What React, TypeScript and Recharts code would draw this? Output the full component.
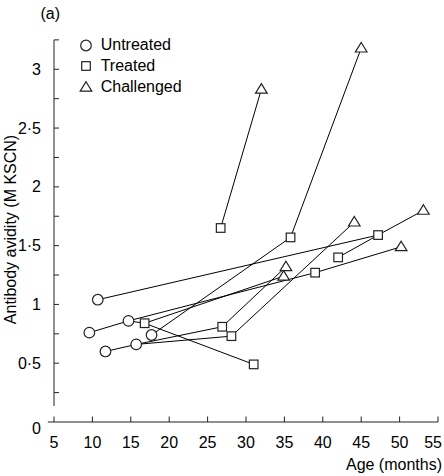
import {
  ComposedChart,
  Legend,
  Line,
  ReferenceLine,
  Scatter,
  XAxis,
  YAxis,
} from "recharts";

const FONT = "'Liberation Sans', Arial, Helvetica, sans-serif";
const INK = "#222";

// marker groups, age (months) vs avidity (M KSCN)
const untreated = [
  { id: "u1", age: 10.7, avidity: 1.04 },
  { id: "u2", age: 9.6, avidity: 0.76 },
  { id: "u3", age: 14.7, avidity: 0.86 },
  { id: "u4", age: 11.7, avidity: 0.6 },
  { id: "u5", age: 15.7, avidity: 0.66 },
  { id: "u6", age: 17.7, avidity: 0.74 },
];

const treated = [
  { id: "t1", age: 16.8, avidity: 0.84 },
  { id: "t2", age: 26.7, avidity: 1.65 },
  { id: "t3", age: 35.8, avidity: 1.57 },
  { id: "t4", age: 42.0, avidity: 1.4 },
  { id: "t5", age: 39.0, avidity: 1.27 },
  { id: "t6", age: 26.9, avidity: 0.81 },
  { id: "t7", age: 28.1, avidity: 0.73 },
  { id: "t8", age: 31.0, avidity: 0.49 },
  { id: "t9", age: 47.2, avidity: 1.59 },
];

const challenged = [
  { id: "c1", age: 35.2, avidity: 1.32 },
  { id: "c2", age: 34.9, avidity: 1.24 },
  { id: "c3", age: 44.1, avidity: 1.7 },
  { id: "c4", age: 53.1, avidity: 1.8 },
  { id: "c5", age: 50.2, avidity: 1.49 },
  { id: "c6", age: 32.0, avidity: 2.83 },
  { id: "c7", age: 45.0, avidity: 3.18 },
];

// which points are joined by a line
const paths = [
  ["u6", "t3", "c7"],
  ["t2", "c6"],
  ["u1", "t9", "c4"],
  ["t4", "t9"],
  ["u2", "u3", "t5", "c5"],
  ["u3", "t1", "c2"],
  ["t1", "t8"],
  ["u4", "u5", "t6", "c1"],
  ["u5", "t7", "c3"],
];

const xTicks = [5, 10, 15, 20, 25, 30, 35, 40, 45, 50, 55];
const yTicks = [0, 0.25, 0.5, 0.75, 1, 1.25, 1.5, 1.75, 2, 2.25, 2.5, 2.75, 3, 3.25];
const yLabels: Record<number, string> = {
  0: "0",
  0.5: "0·5",
  1: "1",
  1.5: "1·5",
  2: "2",
  2.5: "2·5",
  3: "3",
};

const W = 444;
const H = 476;
const MARGIN = { top: 34, right: 6, bottom: 24, left: 0 };
const Y_AXIS_W = 54;
const X_AXIS_H = 30;
const AXIS_X = MARGIN.left + Y_AXIS_W;
const AXIS_Y = H - MARGIN.bottom - X_AXIS_H;

const byId: Record<string, { age: number; avidity: number }> = {};
[...untreated, ...treated, ...challenged].forEach((p) => {
  byId[p.id] = p;
});

function Circle({ cx, cy }: { cx?: number; cy?: number }) {
  return <circle cx={cx} cy={cy} r={5.3} fill="#fff" stroke={INK} strokeWidth={1.2} />;
}

function Square({ cx, cy }: { cx?: number; cy?: number }) {
  const s = 8.6;
  return (
    <rect
      x={(cx ?? 0) - s / 2}
      y={(cy ?? 0) - s / 2}
      width={s}
      height={s}
      fill="#fff"
      stroke={INK}
      strokeWidth={1.2}
    />
  );
}

function Triangle({ cx, cy }: { cx?: number; cy?: number }) {
  const x = cx ?? 0;
  const y = cy ?? 0;
  return (
    <path
      d={`M${x},${y - 5.6} L${x + 5.8},${y + 3.9} L${x - 5.8},${y + 3.9} Z`}
      fill="#fff"
      stroke={INK}
      strokeWidth={1.2}
      strokeLinejoin="miter"
    />
  );
}

function YTick({ y, payload }: { y?: number; payload?: { value: number } }) {
  const v = payload?.value ?? 0;
  const label = yLabels[v];
  const yy = y ?? 0;
  return (
    <g>
      {v > 0 && <line x1={AXIS_X} x2={AXIS_X + 5} y1={yy} y2={yy} stroke={INK} strokeWidth={1} />}
      {label !== undefined && (
        <text
          x={AXIS_X - 13}
          y={yy + (v === 0 ? 6.5 : 0)}
          dy="0.35em"
          textAnchor="end"
          fontFamily={FONT}
          fontSize={16}
          fill="#000"
        >
          {label}
        </text>
      )}
    </g>
  );
}

function XTick({ x, payload }: { x?: number; payload?: { value: number } }) {
  const xx = x ?? 0;
  // last label is pulled in so it stays inside the frame
  const fits = xx + 9 <= 442;
  return (
    <g>
      <line x1={xx} x2={xx} y1={AXIS_Y} y2={AXIS_Y - 5.5} stroke={INK} strokeWidth={1} />
      <text
        x={fits ? xx : 442}
        y={442}
        dy="0.35em"
        textAnchor={fits ? "middle" : "end"}
        fontFamily={FONT}
        fontSize={16}
        fill="#000"
      >
        {payload?.value}
      </text>
    </g>
  );
}

function LegendBox() {
  const rows = [
    { name: "Untreated", Mark: Circle, y: 15.5 },
    { name: "Treated", Mark: Square, y: 36 },
    { name: "Challenged", Mark: Triangle, y: 57.3 },
  ];
  return (
    <svg width={130} height={70} style={{ display: "block" }}>
      {rows.map(({ name, Mark, y }) => (
        <g key={name}>
          <Mark cx={16} cy={y} />
          <text x={30.7} y={y - 1} dy="0.35em" fontFamily={FONT} fontSize={16} fill="#000">
            {name}
          </text>
        </g>
      ))}
    </svg>
  );
}

function Titles() {
  return (
    <g>
      <text x={40.5} y={13} dy="0.35em" fontFamily={FONT} fontSize={16} fill="#000">
        (a)
      </text>
      <text
        x={16}
        y={229.5}
        transform="rotate(-90 16 229.5)"
        textAnchor="middle"
        fontFamily={FONT}
        fontSize={16}
        fill="#000"
      >
        Antibody avidity (M KSCN)
      </text>
    </g>
  );
}

export default function App() {
  return (
    <div style={{ position: "absolute", left: 0, top: 0, background: "#fff" }}>
      <ComposedChart width={W} height={H} margin={MARGIN}>
        <XAxis
          type="number"
          dataKey="age"
          domain={[5, 55]}
          ticks={xTicks}
          interval={0}
          axisLine={false}
          tickLine={false}
          tick={<XTick />}
          height={X_AXIS_H}
          label={{
            content: () => (
              <text x={442} y={464} dy="0.35em" textAnchor="end" fontFamily={FONT} fontSize={16} fill="#000">
                Age (months)
              </text>
            ),
          }}
        />
        <YAxis
          type="number"
          dataKey="avidity"
          domain={[0, 3.3]}
          ticks={yTicks}
          interval={0}
          axisLine={false}
          tickLine={false}
          tick={<YTick />}
          width={Y_AXIS_W}
          label={{ content: () => <Titles /> }}
        />
        <ReferenceLine
          segment={[
            { x: 5, y: 0.136 },
            { x: 5, y: 3.25 },
          ]}
          stroke={INK}
          strokeWidth={1}
          ifOverflow="visible"
        />
        <ReferenceLine
          segment={[
            { x: 4.2, y: 0 },
            { x: 55, y: 0 },
          ]}
          stroke={INK}
          strokeWidth={1}
          ifOverflow="visible"
        />
        {paths.map((ids, i) => (
          <Line
            key={`path-${i}`}
            data={ids.map((id) => byId[id])}
            dataKey="avidity"
            type="linear"
            stroke="#000"
            strokeWidth={1}
            dot={false}
            activeDot={false}
            legendType="none"
            isAnimationActive={false}
          />
        ))}
        <Scatter name="Untreated" data={untreated} shape={<Circle />} isAnimationActive={false} />
        <Scatter name="Treated" data={treated} shape={<Square />} isAnimationActive={false} />
        <Scatter name="Challenged" data={challenged} shape={<Triangle />} isAnimationActive={false} />
        <Legend
          layout="horizontal"
          verticalAlign="middle"
          align="center"
          content={() => <LegendBox />}
          wrapperStyle={{ left: 70, top: 30, width: 130, height: 70 }}
        />
      </ComposedChart>
    </div>
  );
}
